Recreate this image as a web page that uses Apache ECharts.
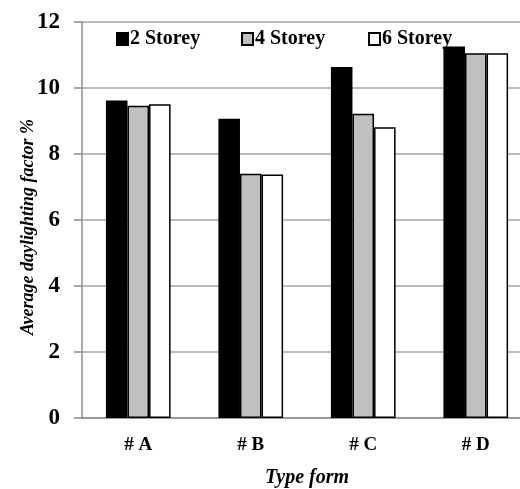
<!DOCTYPE html>
<html><head><meta charset="utf-8">
<script src="https://cdn.jsdelivr.net/npm/echarts@6/dist/echarts.min.js"></script>
<style>html,body{margin:0;padding:0;background:#fff}#c{width:520px;height:489px}</style>
</head><body><div id="c"></div>
<script>
const categories = ['# A', '# B', '# C', '# D'];
const seriesNames = ['2 Storey', '4 Storey', '6 Storey'];
const storey2 = [9.62, 9.07, 10.64, 11.26];
const storey4 = [9.46, 7.40, 9.22, 11.05];
const storey6 = [9.51, 7.38, 8.81, 11.05];
const yTicks = [0, 2, 4, 6, 8, 10, 12];

const font = 'Liberation Serif, Times New Roman, serif';
const colors = ['#000000', '#c0c0c0', '#ffffff'];
const vals = [storey2, storey4, storey6];
const legendLefts = [116, 241, 368];

const chart = echarts.init(document.getElementById('c'));
chart.setOption({
  animation: false,
  grid: { left: 82, top: 22, width: 450, height: 396, containLabel: false, outerBoundsMode: 'none' },
  legend: seriesNames.map((n, i) => ({
    data: [n], left: legendLefts[i], top: 29, padding: 0, icon: 'rect', itemWidth: 11, itemHeight: 12,
    itemGap: 2, selectedMode: false,
    textStyle: { fontFamily: font, fontWeight: 'bold', fontSize: 20, color: '#000', padding: [0, 0, 0, -3] }
  })),
  xAxis: {
    type: 'category', data: categories,
    axisLine: { lineStyle: { color: '#8c8c8c', width: 1.5 } },
    axisTick: { show: false },
    axisLabel: { fontFamily: font, fontWeight: 'bold', fontSize: 19, color: '#000', margin: 18 },
    name: 'Type form', nameLocation: 'middle', nameGap: 50, nameMoveOverlap: false,
    nameTextStyle: { fontFamily: font, fontWeight: 'bold', fontStyle: 'italic', fontSize: 20, color: '#000' }
  },
  yAxis: {
    type: 'value', min: 0, max: 12, interval: 2,
    axisLine: { show: true, lineStyle: { color: '#8c8c8c', width: 1.5 } },
    axisTick: { show: true, length: 8, lineStyle: { color: '#8c8c8c', width: 1.5 } },
    splitLine: { lineStyle: { color: '#a6a6a6', width: 1.5 } },
    axisLabel: { fontFamily: font, fontWeight: 'bold', fontSize: 23, color: '#000', margin: 22,
      formatter: v => yTicks.includes(v) ? String(v) : '' },
    name: 'Average daylighting factor %', nameLocation: 'middle', nameGap: 45, nameMoveOverlap: false,
    nameTextStyle: { fontFamily: font, fontWeight: 'bold', fontStyle: 'italic', fontSize: 18, color: '#000',
      padding: [0, 14, 0, 0] }
  },
  series: seriesNames.map((n, i) => ({
    name: n, type: 'bar', data: vals[i],
    barGap: '0%', barCategoryGap: '42.5%',
    itemStyle: { color: colors[i], borderColor: '#000', borderWidth: 1.5 }
  }))
});
</script></body></html>
